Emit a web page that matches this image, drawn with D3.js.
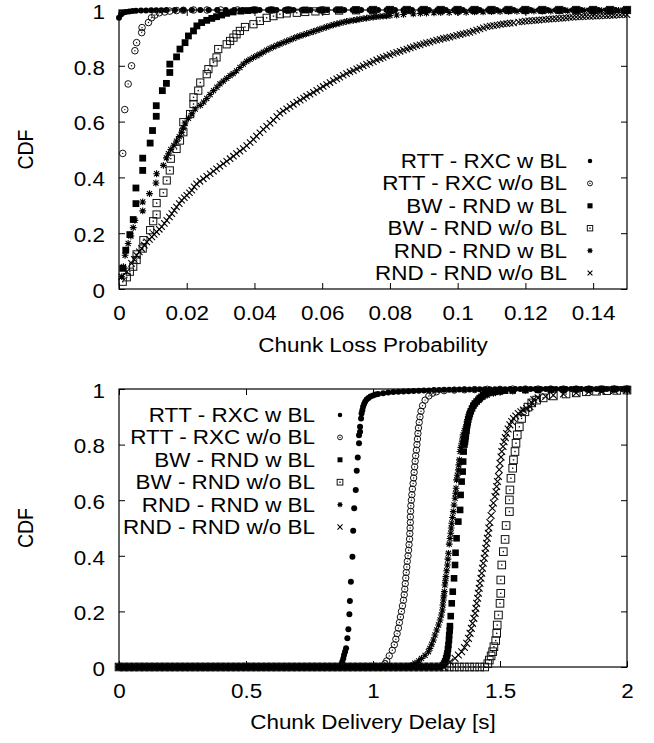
<!DOCTYPE html>
<html>
<head>
<meta charset="utf-8">
<script src="https://cdn.jsdelivr.net/npm/d3@7"></script>
<style>
  body { margin: 0; background: #fff; }
  svg { display: block; }
  text { font-family: "Liberation Sans", Arial, sans-serif; font-size: 19.5px; fill: #000; }
</style>
</head>
<body>
<svg id="chart" width="654" height="743"></svg>
<script>
// Two CDF panels: chunk loss probability (top) and chunk delivery delay (bottom)

const seriesNames = ["RTT - RXC w BL", "RTT - RXC w/o BL", "BW - RND w BL",
                     "BW - RND w/o BL", "RND - RND w BL", "RND - RND w/o BL"];
const cdfTicks = [0, 0.2, 0.4, 0.6, 0.8, 1];
const cdfTickLabels = ["0", "0.2", "0.4", "0.6", "0.8", "1"];
const lossTicks = [0, 0.02, 0.04, 0.06, 0.08, 0.1, 0.12, 0.14];
const lossTickLabels = ["0", "0.02", "0.04", "0.06", "0.08", "0.1", "0.12", "0.14"];
const delayTicks = [0, 0.5, 1, 1.5, 2];
const delayTickLabels = ["0", "0.5", "1", "1.5", "2"];

// ---- top panel: [loss probability, CDF] ----
const lossRttW = [[0,0.972],[0.0006,0.984],[0.0012,0.99],[0.002,0.993],[0.003,0.995],[0.004,0.996],[0.005,0.997],[0.0065,0.998],[0.008,0.998],[0.0095,0.999],[0.011,0.999],[0.0125,0.999],[0.014,1],[0.0165,1],[0.019,1],[0.0215,1],[0.024,1],[0.0265,1],[0.029,1],[0.0315,1],[0.034,1],[0.0365,1],[0.039,1],[0.0415,1],[0.044,1],[0.0465,1],[0.049,1],[0.0515,1],[0.054,1],[0.0565,1],[0.059,1],[0.0615,1],[0.064,1],[0.0665,1],[0.069,1],[0.0715,1],[0.074,1],[0.0765,1],[0.079,1],[0.0815,1],[0.084,1],[0.0865,1],[0.089,1],[0.0915,1],[0.094,1],[0.0965,1],[0.099,1],[0.1015,1],[0.104,1],[0.1065,1],[0.109,1],[0.1115,1],[0.114,1],[0.1165,1],[0.119,1],[0.1215,1],[0.124,1],[0.1265,1],[0.129,1],[0.1315,1],[0.134,1],[0.1365,1],[0.139,1],[0.1415,1],[0.144,1],[0.1465,1],[0.149,1]];
const lossRttWo = [[0.0011,0.486],[0.0017,0.643],[0.0027,0.735],[0.0037,0.8],[0.0047,0.854],[0.0052,0.883],[0.0067,0.919],[0.0068,0.937],[0.0087,0.955],[0.0096,0.972],[0.0106,0.982],[0.0119,0.99],[0.0135,0.993],[0.015,0.996],[0.017,0.998],[0.019,0.999],[0.022,1],[0.026,1],[0.03,1],[0.035,1],[0.04,1],[0.045,1],[0.05,1],[0.06,1],[0.07,1],[0.08,1],[0.09,1],[0.1,1],[0.11,1],[0.12,1],[0.13,1],[0.14,1],[0.15,1]];
const lossBwW = [[0.0011,0.074],[0.002,0.139],[0.0032,0.195],[0.0042,0.249],[0.005,0.306],[0.005,0.362],[0.007,0.425],[0.007,0.469],[0.0092,0.523],[0.0099,0.568],[0.011,0.619],[0.011,0.657],[0.0128,0.711],[0.014,0.737],[0.015,0.776],[0.015,0.806],[0.017,0.832],[0.018,0.86],[0.0195,0.883],[0.0205,0.907],[0.022,0.925],[0.023,0.943],[0.0244,0.955],[0.0259,0.963],[0.0274,0.97],[0.0288,0.976],[0.0303,0.982],[0.0318,0.988],[0.0337,0.993],[0.036,0.996],[0.038,0.998],[0.04,1],[0.045,1],[0.05,1],[0.055,1],[0.06,1],[0.065,1],[0.07,1],[0.075,1],[0.08,1],[0.085,1],[0.09,1],[0.095,1],[0.1,1],[0.105,1],[0.11,1],[0.115,1],[0.12,1],[0.125,1],[0.13,1],[0.135,1],[0.14,1],[0.145,1],[0.15,1]];
const lossBwWo = [[0.0011,0.026],[0.0023,0.042],[0.0032,0.062],[0.0042,0.08],[0.0052,0.104],[0.0052,0.124],[0.007,0.145],[0.0072,0.175],[0.0092,0.211],[0.0101,0.243],[0.0111,0.267],[0.0111,0.308],[0.0131,0.345],[0.0141,0.389],[0.015,0.425],[0.0153,0.467],[0.017,0.502],[0.018,0.532],[0.019,0.562],[0.019,0.598],[0.021,0.627],[0.022,0.663],[0.022,0.687],[0.0234,0.711],[0.024,0.74],[0.0259,0.77],[0.0264,0.788],[0.0279,0.812],[0.0288,0.83],[0.0293,0.86],[0.0318,0.877],[0.0328,0.889],[0.0338,0.901],[0.0347,0.913],[0.0357,0.925],[0.0372,0.939],[0.0397,0.949],[0.0416,0.961],[0.0436,0.972],[0.0456,0.978],[0.0475,0.985],[0.0495,0.988],[0.0525,0.99],[0.055,0.993],[0.058,0.995],[0.061,0.997],[0.065,0.998],[0.07,0.999],[0.075,1],[0.08,1],[0.085,1],[0.09,1],[0.095,1],[0.1,1],[0.105,1],[0.11,1],[0.115,1],[0.12,1],[0.125,1],[0.13,1],[0.135,1],[0.14,1],[0.145,1],[0.15,1]];
const lossRndW = [[0.0008,0.044],[0.0013,0.08],[0.0018,0.121],[0.0027,0.163],[0.0035,0.19],[0.0042,0.22],[0.0047,0.246],[0.007,0.28],[0.007,0.312],[0.009,0.342],[0.0109,0.38],[0.0111,0.413],[0.0131,0.443],[0.014,0.47],[0.0146,0.485],[0.0153,0.5],[0.0162,0.515],[0.017,0.53],[0.0178,0.546],[0.0185,0.562],[0.019,0.578],[0.0195,0.595],[0.0205,0.612],[0.0215,0.628],[0.0225,0.645],[0.024,0.658],[0.025,0.67],[0.0259,0.683],[0.0269,0.697],[0.0279,0.711],[0.0289,0.723],[0.0298,0.735],[0.0308,0.745],[0.0318,0.755],[0.0328,0.765],[0.0337,0.772],[0.0347,0.782],[0.0357,0.794],[0.0367,0.806],[0.0377,0.816],[0.0387,0.823],[0.0397,0.83],[0.0407,0.836],[0.0416,0.842],[0.0426,0.849],[0.0436,0.856],[0.0446,0.862],[0.0456,0.868],[0.0466,0.873],[0.0475,0.878],[0.0485,0.883],[0.0495,0.888],[0.0505,0.893],[0.0515,0.898],[0.0525,0.903],[0.0534,0.907],[0.0544,0.911],[0.0554,0.915],[0.0564,0.919],[0.0574,0.923],[0.0584,0.927],[0.0593,0.931],[0.0603,0.935],[0.0613,0.939],[0.0623,0.943],[0.0633,0.947],[0.0643,0.95],[0.0652,0.953],[0.0662,0.956],[0.0672,0.959],[0.0682,0.961],[0.0692,0.963],[0.0702,0.965],[0.0711,0.967],[0.0721,0.969],[0.0731,0.971],[0.0741,0.973],[0.0751,0.975],[0.0761,0.976],[0.0771,0.977],[0.078,0.978],[0.079,0.979],[0.08,0.98],[0.082,0.982],[0.084,0.984],[0.0869,0.986],[0.089,0.988],[0.0908,0.989],[0.093,0.99],[0.095,0.991],[0.0975,0.991],[0.1,0.992],[0.1025,0.992],[0.105,0.993],[0.1075,0.993],[0.11,0.994],[0.1125,0.994],[0.115,0.995],[0.1175,0.995],[0.12,0.995],[0.1225,0.996],[0.125,0.996],[0.1275,0.996],[0.13,0.997],[0.1325,0.997],[0.135,0.997],[0.1375,0.998],[0.14,0.998],[0.1425,0.998],[0.145,0.998],[0.1475,0.999],[0.15,0.999]];
const lossRndWo = [[0.0008,0.044],[0.0023,0.062],[0.0037,0.092],[0.0045,0.106],[0.0052,0.121],[0.006,0.133],[0.0067,0.145],[0.0075,0.157],[0.0082,0.169],[0.009,0.178],[0.0097,0.187],[0.0104,0.196],[0.0111,0.205],[0.0119,0.214],[0.0126,0.223],[0.0134,0.235],[0.0141,0.246],[0.0149,0.258],[0.0156,0.27],[0.0163,0.282],[0.017,0.294],[0.0178,0.306],[0.0185,0.318],[0.0193,0.327],[0.02,0.336],[0.0208,0.345],[0.0215,0.354],[0.0222,0.366],[0.0229,0.377],[0.0239,0.386],[0.0249,0.395],[0.0259,0.404],[0.0269,0.413],[0.0279,0.422],[0.0288,0.431],[0.0298,0.44],[0.0308,0.449],[0.0318,0.458],[0.0328,0.467],[0.0338,0.476],[0.0347,0.485],[0.0357,0.494],[0.0367,0.503],[0.0377,0.514],[0.0387,0.525],[0.0397,0.536],[0.0406,0.548],[0.0416,0.56],[0.0426,0.572],[0.0436,0.583],[0.0446,0.594],[0.0456,0.605],[0.0466,0.618],[0.0475,0.63],[0.0485,0.638],[0.0495,0.646],[0.0505,0.654],[0.0515,0.662],[0.0525,0.67],[0.0535,0.677],[0.0545,0.684],[0.0554,0.691],[0.0564,0.698],[0.0574,0.705],[0.0584,0.712],[0.0594,0.719],[0.0603,0.726],[0.0613,0.733],[0.0623,0.74],[0.0633,0.747],[0.0643,0.753],[0.0652,0.759],[0.0662,0.766],[0.0672,0.772],[0.0682,0.778],[0.0692,0.783],[0.0702,0.789],[0.0711,0.794],[0.0721,0.8],[0.0731,0.805],[0.0741,0.81],[0.0751,0.815],[0.0761,0.821],[0.0771,0.826],[0.078,0.83],[0.079,0.835],[0.08,0.839],[0.081,0.844],[0.082,0.848],[0.083,0.852],[0.084,0.856],[0.085,0.86],[0.086,0.864],[0.0869,0.868],[0.0879,0.872],[0.0889,0.875],[0.0899,0.879],[0.0908,0.882],[0.0918,0.885],[0.0928,0.889],[0.0938,0.892],[0.0948,0.895],[0.0958,0.898],[0.0967,0.9],[0.0977,0.903],[0.0987,0.906],[0.0997,0.909],[0.1007,0.912],[0.1016,0.915],[0.1026,0.917],[0.1036,0.92],[0.1046,0.924],[0.1056,0.928],[0.1066,0.932],[0.1076,0.936],[0.1086,0.94],[0.1096,0.942],[0.1106,0.944],[0.1116,0.946],[0.1126,0.948],[0.1135,0.95],[0.1145,0.951],[0.1155,0.953],[0.1165,0.954],[0.118,0.957],[0.119,0.958],[0.12,0.96],[0.121,0.961],[0.122,0.962],[0.123,0.963],[0.124,0.964],[0.125,0.965],[0.126,0.966],[0.127,0.967],[0.128,0.968],[0.129,0.969],[0.13,0.97],[0.131,0.971],[0.132,0.972],[0.133,0.973],[0.134,0.974],[0.135,0.975],[0.136,0.975],[0.137,0.976],[0.138,0.977],[0.139,0.977],[0.14,0.978],[0.141,0.978],[0.142,0.979],[0.143,0.98],[0.144,0.98],[0.145,0.981],[0.146,0.981],[0.147,0.982],[0.148,0.982],[0.149,0.983],[0.15,0.983]];

// ---- bottom panel: [delay s, CDF] ----
// delays sampled where every CDF still reads 0, and the last such delay per series
const delayZeroX = [0,0.02,0.04,0.06,0.08,0.1,0.12,0.14,0.16,0.18,0.2,0.22,0.24,0.26,0.28,0.3,0.32,0.34,0.36,0.38,0.4,0.42,0.44,0.46,0.48,0.5,0.52,0.54,0.56,0.58,0.6,0.62,0.64,0.66,0.68,0.7,0.72,0.74,0.76,0.78,0.8,0.82,0.84,0.86,0.88,0.9,0.92,0.94,0.96,0.98,1,1.02,1.04,1.06,1.08,1.1,1.12,1.14,1.16,1.18,1.2,1.22,1.24,1.26,1.28,1.3,1.32,1.34,1.36,1.38,1.4,1.42,1.44];
const delayZeroUntil = [0.86, 1.04, 1.26, 1.44, 1.14, 1.28];
const delayRttW = [[0.874,0.008],[0.879,0.019],[0.883,0.031],[0.886,0.043],[0.89,0.055],[0.894,0.067],[0.899,0.103],[0.903,0.136],[0.907,0.19],[0.909,0.237],[0.913,0.307],[0.919,0.397],[0.922,0.49],[0.926,0.571],[0.932,0.637],[0.936,0.706],[0.94,0.754],[0.945,0.805],[0.945,0.834],[0.949,0.846],[0.949,0.864],[0.953,0.894],[0.955,0.912],[0.958,0.924],[0.961,0.936],[0.965,0.946],[0.969,0.954],[0.975,0.962],[0.982,0.968],[0.99,0.973],[1,0.977],[1.01,0.98],[1.02,0.982],[1.04,0.985],[1.06,0.987],[1.08,0.989],[1.1,0.99],[1.12,0.991],[1.14,0.992],[1.16,0.993],[1.18,0.994],[1.2,0.995],[1.22,0.995],[1.24,0.996],[1.26,0.996],[1.28,0.997],[1.3,0.997],[1.32,0.997],[1.34,0.998],[1.36,0.998],[1.38,0.998],[1.4,0.998],[1.42,0.999],[1.44,0.999],[1.46,0.999],[1.48,0.999],[1.5,0.999],[1.52,0.999],[1.54,1],[1.56,1],[1.58,1],[1.6,1],[1.62,1],[1.64,1],[1.66,1],[1.68,1],[1.7,1],[1.72,1],[1.74,1],[1.76,1],[1.78,1],[1.8,1],[1.82,1],[1.84,1],[1.86,1],[1.88,1],[1.9,1],[1.92,1],[1.94,1],[1.96,1],[1.98,1],[2,1]];
const delayRttWo = [[1.047,0.012],[1.054,0.022],[1.064,0.04],[1.076,0.06],[1.084,0.08],[1.09,0.1],[1.095,0.12],[1.1,0.14],[1.104,0.16],[1.108,0.18],[1.112,0.2],[1.116,0.22],[1.12,0.24],[1.123,0.26],[1.125,0.28],[1.127,0.3],[1.129,0.32],[1.131,0.34],[1.133,0.36],[1.135,0.38],[1.138,0.4],[1.14,0.42],[1.142,0.44],[1.144,0.46],[1.145,0.48],[1.146,0.5],[1.147,0.52],[1.147,0.54],[1.148,0.56],[1.149,0.58],[1.151,0.6],[1.153,0.62],[1.155,0.64],[1.158,0.66],[1.16,0.68],[1.162,0.7],[1.164,0.72],[1.166,0.74],[1.168,0.76],[1.171,0.78],[1.173,0.8],[1.175,0.82],[1.177,0.84],[1.179,0.86],[1.182,0.88],[1.185,0.9],[1.189,0.92],[1.195,0.94],[1.205,0.96],[1.22,0.975],[1.235,0.985],[1.25,0.99],[1.28,0.994],[1.32,0.996],[1.36,0.997],[1.4,0.998],[1.45,0.999],[1.5,0.999],[1.55,1],[1.6,1],[1.65,1],[1.7,1],[1.75,1],[1.8,1],[1.85,1],[1.9,1],[1.95,1],[2,1]];
const delayBwW = [[1.275,0.006],[1.28,0.012],[1.284,0.02],[1.288,0.031],[1.291,0.04],[1.293,0.049],[1.295,0.064],[1.297,0.079],[1.299,0.097],[1.3,0.115],[1.302,0.131],[1.303,0.147],[1.306,0.183],[1.31,0.229],[1.314,0.271],[1.319,0.319],[1.323,0.367],[1.325,0.411],[1.329,0.463],[1.336,0.523],[1.343,0.565],[1.345,0.619],[1.349,0.667],[1.353,0.703],[1.355,0.739],[1.357,0.775],[1.36,0.8],[1.362,0.81],[1.363,0.82],[1.365,0.83],[1.366,0.84],[1.368,0.85],[1.369,0.86],[1.371,0.87],[1.373,0.88],[1.375,0.89],[1.378,0.9],[1.381,0.91],[1.385,0.92],[1.39,0.93],[1.395,0.94],[1.401,0.948],[1.408,0.955],[1.415,0.961],[1.42,0.967],[1.427,0.972],[1.434,0.978],[1.442,0.981],[1.45,0.985],[1.465,0.988],[1.48,0.99],[1.5,0.992],[1.52,0.994],[1.55,0.995],[1.6,0.996],[1.65,0.997],[1.7,0.998],[1.75,0.998],[1.8,0.999],[1.85,0.999],[1.9,1],[1.95,1],[2,1]];
const delayBwWo = [[1.452,0.012],[1.458,0.025],[1.465,0.04],[1.471,0.055],[1.476,0.073],[1.483,0.095],[1.487,0.121],[1.489,0.151],[1.494,0.187],[1.5,0.229],[1.503,0.265],[1.503,0.313],[1.507,0.367],[1.513,0.415],[1.52,0.459],[1.524,0.509],[1.537,0.559],[1.537,0.601],[1.539,0.637],[1.543,0.679],[1.55,0.715],[1.553,0.745],[1.559,0.775],[1.563,0.805],[1.568,0.835],[1.576,0.864],[1.585,0.894],[1.598,0.918],[1.61,0.935],[1.625,0.95],[1.644,0.96],[1.67,0.968],[1.71,0.975],[1.76,0.982],[1.8,0.986],[1.84,0.99],[1.88,0.992],[1.92,0.994],[1.96,0.995],[2,0.996]];
const delayRndW = [[1.15,0.006],[1.165,0.014],[1.18,0.022],[1.191,0.031],[1.205,0.042],[1.218,0.055],[1.224,0.067],[1.231,0.082],[1.238,0.097],[1.244,0.115],[1.251,0.133],[1.258,0.151],[1.264,0.169],[1.269,0.187],[1.273,0.205],[1.275,0.223],[1.277,0.241],[1.279,0.256],[1.281,0.271],[1.283,0.295],[1.285,0.31],[1.287,0.325],[1.29,0.346],[1.293,0.367],[1.295,0.388],[1.297,0.409],[1.3,0.442],[1.303,0.462],[1.306,0.481],[1.308,0.5],[1.31,0.517],[1.313,0.538],[1.316,0.559],[1.319,0.583],[1.323,0.607],[1.325,0.625],[1.327,0.643],[1.329,0.673],[1.332,0.69],[1.336,0.709],[1.338,0.727],[1.34,0.745],[1.343,0.775],[1.346,0.79],[1.349,0.805],[1.352,0.82],[1.355,0.835],[1.36,0.85],[1.366,0.864],[1.37,0.882],[1.375,0.9],[1.381,0.915],[1.388,0.93],[1.397,0.942],[1.408,0.954],[1.42,0.963],[1.434,0.972],[1.45,0.978],[1.474,0.984],[1.5,0.988],[1.55,0.992],[1.6,0.995],[1.65,0.996],[1.7,0.997],[1.75,0.998],[1.8,0.998],[1.85,0.999],[1.9,0.999],[1.95,1],[2,1]];
const delayRndWo = [[1.303,0.019],[1.323,0.031],[1.336,0.043],[1.349,0.055],[1.36,0.07],[1.369,0.085],[1.376,0.103],[1.382,0.121],[1.387,0.139],[1.392,0.157],[1.397,0.175],[1.402,0.193],[1.405,0.211],[1.408,0.229],[1.412,0.247],[1.415,0.265],[1.418,0.283],[1.421,0.301],[1.425,0.319],[1.428,0.337],[1.431,0.355],[1.434,0.373],[1.438,0.391],[1.441,0.409],[1.444,0.427],[1.447,0.445],[1.45,0.463],[1.454,0.481],[1.456,0.5],[1.46,0.52],[1.465,0.545],[1.47,0.571],[1.474,0.59],[1.48,0.613],[1.484,0.63],[1.487,0.649],[1.49,0.667],[1.494,0.685],[1.497,0.71],[1.5,0.733],[1.504,0.755],[1.507,0.775],[1.512,0.793],[1.516,0.81],[1.521,0.825],[1.526,0.84],[1.532,0.856],[1.539,0.871],[1.546,0.883],[1.553,0.894],[1.562,0.903],[1.572,0.912],[1.582,0.918],[1.592,0.924],[1.605,0.93],[1.618,0.936],[1.626,0.95],[1.633,0.962],[1.65,0.968],[1.68,0.973],[1.71,0.978],[1.75,0.982],[1.8,0.986],[1.85,0.99],[1.9,0.993],[1.95,0.995],[2,0.996]];

const markerKinds = ["dot", "ring", "box", "frame", "star", "cross"];

const svg = d3.select("#chart");

// gnuplot-like point types, s = half size
const marker = {
  dot: (g, s) => g.append("circle").attr("r", s).attr("fill", "#000"),
  ring: (g, s) => {
    g.append("circle").attr("r", s).attr("fill", "none").attr("stroke", "#111").attr("stroke-width", 1);
    g.append("circle").attr("r", 0.7).attr("fill", "#111");
  },
  box: (g, s) => g.append("rect").attr("x", -s).attr("y", -s).attr("width", 2 * s).attr("height", 2 * s).attr("fill", "#000"),
  frame: (g, s) => {
    g.append("rect").attr("x", -s).attr("y", -s).attr("width", 2 * s).attr("height", 2 * s)
      .attr("fill", "none").attr("stroke", "#111").attr("stroke-width", 1);
    g.append("rect").attr("x", -0.7).attr("y", -0.7).attr("width", 1.4).attr("height", 1.4).attr("fill", "#111");
  },
  star: (g, s) => {
    const t = s * 0.75;
    g.append("path").attr("d", `M${-s},0H${s}M0,${-s}V${s}M${-t},${-t}L${t},${t}M${-t},${t}L${t},${-t}`)
      .attr("stroke", "#000").attr("stroke-width", 1.1).attr("fill", "none");
  },
  cross: (g, s) => {
    g.append("path").attr("d", `M${-s},${-s}L${s},${s}M${-s},${s}L${s},${-s}`)
      .attr("stroke", "#000").attr("stroke-width", 1.1).attr("fill", "none");
  }
};

function cleanAxis(sel) {
  sel.attr("font-family", null).attr("font-size", null);
  sel.select(".domain").remove();
  sel.selectAll(".tick line").attr("stroke", "#000");
}

function drawPanel(p) {
  const x = d3.scaleLinear().domain(p.xDomain).range([p.left, p.right]);
  const y = d3.scaleLinear().domain([0, 1]).range([p.bottom, p.top]);
  const g = svg.append("g");
  const fmt = labels => (d, i) => labels[i];

  g.append("g").attr("transform", `translate(0,${p.bottom})`)
    .call(d3.axisBottom(x).tickValues(p.xTicks).tickFormat(fmt(p.xTickLabels)).tickSize(-6).tickPadding(p.xPad))
    .call(cleanAxis);
  g.append("g").attr("transform", `translate(0,${p.top})`)
    .call(d3.axisTop(x).tickValues(p.xTicks).tickFormat("").tickSize(-6))
    .call(cleanAxis);
  g.append("g").attr("transform", `translate(${p.left},0)`)
    .call(d3.axisLeft(y).tickValues(cdfTicks).tickFormat(fmt(cdfTickLabels)).tickSize(-6).tickPadding(14))
    .call(cleanAxis)
    .call(a => a.selectAll(".tick text").attr("dy", "0.42em"));
  g.append("g").attr("transform", `translate(${p.right},0)`)
    .call(d3.axisRight(y).tickValues(cdfTicks).tickFormat("").tickSize(-6))
    .call(cleanAxis);

  g.append("rect")
    .attr("x", p.left).attr("y", p.top)
    .attr("width", p.right - p.left).attr("height", p.bottom - p.top)
    .attr("fill", "none").attr("stroke", "#000").attr("stroke-width", 1.2);

  // axis titles
  g.append("text").attr("class", "rot")
    .attr("transform", `translate(25,${(p.top + p.bottom) / 2}) scale(1.15,1) rotate(-90)`)
    .attr("text-anchor", "middle").attr("dy", "0.35em").text("CDF");
  g.append("text").attr("x", (p.left + p.right) / 2).attr("y", p.xLabelY)
    .attr("text-anchor", "middle").text(p.xLabel);

  // points
  p.series.forEach((pts, i) => {
    g.append("g").selectAll("g").data(pts).join("g")
      .attr("transform", d => `translate(${x(d[0])},${y(d[1])})`)
      .each(function () { marker[markerKinds[i]](d3.select(this), p.sizes[i]); });
  });

  // key
  seriesNames.forEach((name, i) => {
    const cy = p.keyTop + i * p.keyStep;
    g.append("text").attr("x", p.keyTextX).attr("y", cy + 7)
      .attr("text-anchor", "end").text(name);
    const m = g.append("g").attr("transform", `translate(${p.keyMarkX},${cy})`);
    marker[markerKinds[i]](m, p.sizes[i] * 0.75);
  });
}

drawPanel({
  left: 119, right: 627, top: 10, bottom: 289,
  xDomain: [0, 0.15], xTicks: lossTicks, xTickLabels: lossTickLabels, xPad: 17,
  xLabel: "Chunk Loss Probability", xLabelY: 352,
  series: [lossRttW, lossRttWo, lossBwW, lossBwWo, lossRndW, lossRndWo],
  sizes: [3, 3.3, 3.4, 3.6, 3.4, 3.2],
  keyTop: 161, keyStep: 22.4, keyTextX: 567, keyMarkX: 590
});

const withZeros = (pts, i) =>
  delayZeroX.filter(v => v <= delayZeroUntil[i]).map(v => [v, 0]).concat(pts);

drawPanel({
  left: 119, right: 627, top: 389, bottom: 667,
  xDomain: [0, 2], xTicks: delayTicks, xTickLabels: delayTickLabels, xPad: 17,
  xLabel: "Chunk Delivery Delay [s]", xLabelY: 729,
  series: [delayRttW, delayRttWo, delayBwW, delayBwWo, delayRndW, delayRndWo].map(withZeros),
  sizes: [3, 3.2, 3.3, 3.8, 3.4, 3.4],
  keyTop: 415, keyStep: 22.4, keyTextX: 315, keyMarkX: 340
});

// the reference type is set slightly wide
svg.selectAll("text").filter(function () { return !this.classList.contains("rot"); })
  .each(function () {
    const w = this.getComputedTextLength();
    d3.select(this).attr("textLength", w * 1.15).attr("lengthAdjust", "spacingAndGlyphs");
  });
</script>
</body>
</html>
